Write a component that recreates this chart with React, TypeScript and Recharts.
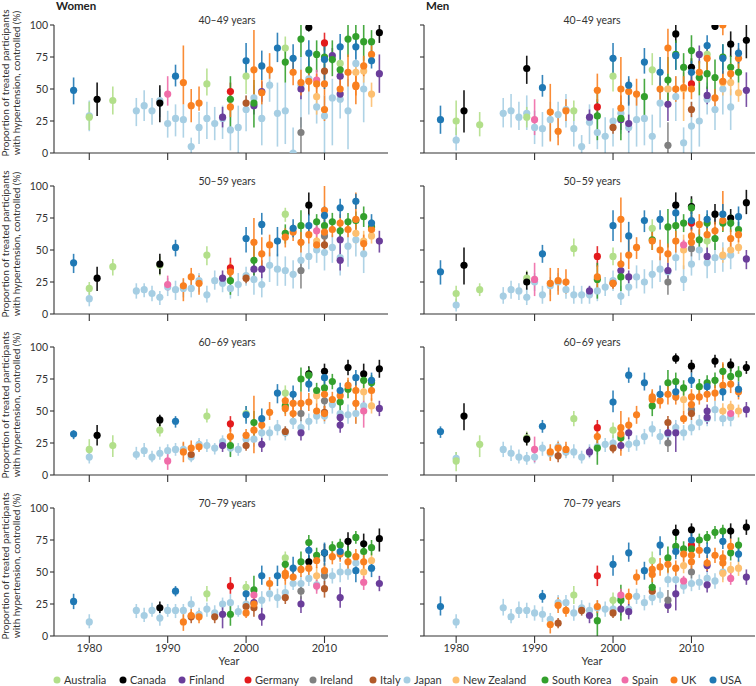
import React from "react";
import { ScatterChart, Scatter, XAxis, YAxis, ErrorBar } from "recharts";

type Row = [string, number, number, number, number];

const countryCodes = ["AU", "CA", "FI", "DE", "IE", "IT", "JP", "NZ", "KR", "ES", "UK", "US"];
const countryNames = ["Australia", "Canada", "Finland", "Germany", "Ireland", "Italy", "Japan", "New Zealand", "South Korea", "Spain", "UK", "USA"];
const countryColors = ["#b2df8a", "#000000", "#6a3d9a", "#e31a1c", "#808080", "#b15928", "#a6cee3", "#fdbf6f", "#33a02c", "#f06ca8", "#f98020", "#1f78b4"];
const drawOrder = ["JP", "AU", "CA", "FI", "DE", "IE", "IT", "NZ", "KR", "ES", "UK", "US"];
const ageGroups = ["40–49 years", "50–59 years", "60–69 years", "70–79 years"];
const sexLabels = ["Women", "Men"];
const yearTicks = [1980, 1990, 2000, 2010];
const pctTicks = [0, 25, 50, 75, 100];

// [country, year, value, lower, upper]
const women40: Row[] = [
  ["US",1978,49,38,59],["AU",1980,28,18,40],["JP",1980,29,17,41],["CA",1981,42,29,55],["AU",1983,41,30,52],
  ["JP",1986,33,21,43],["JP",1987,37,25,49],["JP",1988,33,22,43],["CA",1989,39,24,53],["JP",1989,41,28,50],
  ["ES",1990,46,37,60],["JP",1990,23,12,33],["US",1991,60,52,69],["JP",1991,27,13,38],["UK",1992,55,38,84],
  ["JP",1992,26,12,38],["JP",1993,5,0,12],["UK",1993,37,24,50],["UK",1994,39,33,52],["JP",1994,20,7,32],
  ["AU",1995,54,45,66],["JP",1995,27,11,40],["JP",1996,23,10,36],["FI",1997,28,20,36],["JP",1997,27,11,37],
  ["DE",1998,48,40,55],["KR",1998,42,20,60],["UK",1998,36,28,45],["JP",1998,18,2,35],["JP",1999,20,0,37],
  ["IT",2000,39,33,45],["AU",2000,60,46,72],["US",2000,72,62,86],["JP",2000,34,17,45],["UK",2001,65,40,96],
  ["JP",2001,43,33,53],["FI",2001,37,30,45],["KR",2001,39,20,57],["US",2002,68,57,80],["FI",2002,48,40,56],
  ["UK",2002,47,38,57],["JP",2002,27,6,45],["UK",2003,65,58,78],["JP",2003,53,40,65],["US",2004,82,71,94],
  ["JP",2004,31,5,55],["AU",2005,82,72,91],["KR",2005,71,55,84],["JP",2005,33,7,55],["US",2006,74,64,85],
  ["UK",2006,63,53,73],["JP",2006,0,0,20],["KR",2007,89,75,100],["IE",2007,16,0,28],["UK",2007,55,45,65],
  ["FI",2007,50,42,58],["JP",2007,53,20,75],["CA",2008,98,95,100],["US",2008,78,67,88],["KR",2008,65,55,77],
  ["UK",2008,56,48,64],["JP",2008,58,30,72],["KR",2009,77,63,88],["ES",2009,57,50,65],["UK",2009,54,45,62],
  ["NZ",2009,44,30,55],["JP",2009,36,23,47],["DE",2010,86,80,94],["US",2010,73,50,88],["KR",2010,75,65,85],
  ["IT",2010,64,58,70],["UK",2010,54,45,62],["UK",2010,34,25,45],["JP",2010,29,0,45],["FI",2011,76,70,82],
  ["KR",2011,73,60,88],["JP",2011,43,6,58],["AU",2012,70,60,80],["KR",2012,65,57,73],["FI",2012,60,52,68],
  ["FI",2012,46,40,52],["UK",2012,50,42,58],["JP",2012,42,27,52],["US",2012,83,73,93],["KR",2013,89,75,100],
  ["UK",2013,63,52,77],["JP",2013,33,3,58],["KR",2014,91,80,100],["US",2014,83,73,93],["JP",2014,70,60,80],
  ["NZ",2014,63,55,70],["UK",2014,53,45,60],["UK",2014,52,38,62],["JP",2015,50,24,65],["UK",2015,68,60,76],
  ["NZ",2015,64,55,72],["KR",2015,87,72,100],["UK",2016,77,70,84],["US",2016,72,66,80],["KR",2016,87,78,96],
  ["NZ",2016,46,36,55],["CA",2017,94,86,100],["FI",2017,62,47,77],
];

const men40: Row[] = [
  ["US",1978,26,15,37],["AU",1980,25,14,41],["JP",1980,10,2,20],["CA",1981,33,16,49],["AU",1983,22,13,32],
  ["JP",1986,31,20,43],["JP",1987,33,20,46],["JP",1988,28,18,40],["AU",1989,28,20,36],["JP",1989,31,18,45],
  ["CA",1989,66,54,76],["ES",1990,26,14,42],["JP",1990,20,7,33],["US",1991,51,44,61],["JP",1991,19,5,32],
  ["UK",1992,32,9,54],["JP",1992,26,10,40],["UK",1993,17,6,28],["JP",1993,30,12,40],["UK",1994,33,25,42],
  ["JP",1994,34,20,46],["AU",1995,33,25,41],["JP",1995,19,5,32],["JP",1996,5,0,14],["FI",1997,28,22,34],
  ["JP",1997,24,7,38],["UK",1998,49,40,62],["DE",1998,36,30,42],["KR",1998,29,10,48],["JP",1998,16,3,28],
  ["JP",1999,13,0,28],["US",2000,74,61,86],["AU",2000,60,48,75],["IT",2000,20,15,26],["JP",2000,25,5,35],
  ["UK",2001,50,38,75],["UK",2001,35,25,45],["JP",2001,31,15,45],["KR",2001,27,10,40],["FI",2001,26,18,34],
  ["US",2002,53,37,60],["UK",2002,48,38,58],["FI",2002,23,16,30],["JP",2002,20,0,40],["UK",2003,46,37,58],
  ["JP",2003,26,5,45],["US",2004,71,62,82],["KR",2004,44,27,58],["JP",2004,27,6,45],["AU",2005,65,53,78],
  ["JP",2005,13,0,30],["US",2006,63,47,75],["UK",2006,50,40,60],["JP",2006,39,20,55],["UK",2007,82,62,97],
  ["KR",2007,57,40,75],["NZ",2007,50,38,62],["FI",2007,38,25,50],["IE",2007,6,0,24],["JP",2007,50,35,60],
  ["CA",2008,93,86,100],["US",2008,76,65,86],["KR",2008,77,65,88],["UK",2008,50,40,60],["JP",2008,44,25,60],
  ["KR",2009,67,55,78],["NZ",2009,50,25,63],["UK",2009,51,42,60],["JP",2009,8,0,20],["CA",2010,67,60,74],
  ["US",2010,63,55,72],["KR",2010,80,70,92],["DE",2010,54,48,60],["UK",2010,50,42,58],["IT",2010,34,28,40],
  ["JP",2010,21,0,40],["FI",2011,77,70,84],["KR",2011,59,45,72],["UK",2011,63,55,72],["JP",2011,25,5,45],
  ["US",2012,84,75,92],["AU",2012,77,70,84],["UK",2012,74,62,86],["KR",2012,62,50,74],["FI",2012,45,38,52],
  ["JP",2012,42,30,55],["CA",2013,99,96,100],["KR",2013,59,45,73],["UK",2013,43,35,50],["JP",2013,34,18,50],
  ["UK",2014,100,92,100],["US",2014,74,62,85],["KR",2014,75,65,85],["NZ",2014,55,45,65],["UK",2014,56,48,64],
  ["JP",2014,50,30,65],["CA",2015,85,75,95],["KR",2015,67,58,76],["UK",2015,62,55,70],["NZ",2015,55,45,65],
  ["JP",2015,36,18,50],["US",2016,78,70,86],["UK",2016,74,66,82],["KR",2016,63,55,71],["NZ",2016,47,40,55],
  ["CA",2017,88,74,100],["FI",2017,49,36,63],
];

const women50: Row[] = [
  ["US",1978,40,32,47],["AU",1980,20,15,25],["JP",1980,12,6,18],["CA",1981,28,18,37],["AU",1983,37,30,43],
  ["JP",1986,18,12,24],["JP",1987,19,13,24],["JP",1988,16,10,22],["AU",1989,38,30,45],["CA",1989,39,31,47],
  ["JP",1989,13,7,18],["ES",1990,23,18,30],["JP",1990,21,14,28],["US",1991,52,45,58],["JP",1991,19,11,26],
  ["UK",1992,22,10,28],["JP",1992,20,13,27],["UK",1993,29,22,36],["JP",1993,20,13,27],["UK",1994,24,15,30],
  ["JP",1994,26,17,32],["AU",1995,46,38,53],["JP",1995,15,9,22],["JP",1996,26,19,34],["FI",1997,28,22,34],
  ["JP",1997,24,17,30],["DE",1998,36,28,44],["UK",1998,33,27,40],["KR",1998,26,15,32],["JP",1998,20,12,28],
  ["JP",1999,23,14,32],["IT",2000,28,24,32],["JP",2000,30,22,37],["US",2000,59,48,68],["UK",2001,56,43,75],
  ["KR",2001,42,30,55],["FI",2001,35,30,40],["JP",2001,27,15,36],["US",2002,70,62,79],["UK",2002,47,35,60],
  ["FI",2002,35,28,42],["JP",2002,23,13,31],["UK",2003,54,45,62],["JP",2003,38,25,48],["US",2004,57,45,68],
  ["JP",2004,35,22,47],["AU",2005,78,72,83],["KR",2005,63,55,70],["UK",2005,60,52,67],["JP",2005,34,22,45],
  ["US",2006,67,60,74],["UK",2006,64,57,70],["JP",2006,31,20,42],["KR",2007,69,52,81],["UK",2007,56,48,64],
  ["JP",2007,42,32,52],["IE",2007,34,20,43],["CA",2008,85,77,95],["US",2008,69,60,78],["UK",2008,62,55,70],
  ["JP",2008,45,35,56],["KR",2009,72,65,78],["ES",2009,65,60,70],["NZ",2009,57,50,64],["UK",2009,54,48,60],
  ["JP",2009,50,40,58],["US",2010,77,70,84],["UK",2010,81,65,100],["KR",2010,69,62,76],["UK",2010,64,58,70],
  ["IE",2010,61,55,67],["IT",2010,54,48,60],["JP",2010,48,34,58],["KR",2011,72,65,79],["UK",2011,66,60,72],
  ["JP",2011,52,40,62],["US",2012,83,75,90],["UK",2012,71,64,78],["KR",2012,65,58,72],["FI",2012,58,50,65],
  ["FI",2012,42,34,50],["JP",2012,44,30,55],["KR",2013,72,65,79],["UK",2013,66,60,72],["JP",2013,53,37,65],
  ["US",2014,88,82,94],["UK",2014,74,65,95],["KR",2014,73,66,80],["NZ",2014,63,55,70],["JP",2014,58,45,70],
  ["KR",2015,76,68,84],["NZ",2015,57,50,65],["UK",2015,55,48,62],["JP",2015,47,32,60],["US",2016,71,63,78],
  ["KR",2016,68,62,74],["UK",2016,66,60,72],["NZ",2016,61,55,67],["FI",2017,57,48,65],
];

const men50: Row[] = [
  ["US",1978,33,23,42],["AU",1980,16,9,22],["JP",1980,7,2,12],["CA",1981,38,23,52],["AU",1983,19,14,24],
  ["JP",1986,14,8,21],["JP",1987,19,12,26],["JP",1988,18,11,24],["AU",1989,28,22,34],["CA",1989,25,19,33],
  ["JP",1989,13,7,20],["ES",1990,27,14,40],["JP",1990,25,18,32],["US",1991,47,40,54],["JP",1991,15,8,22],
  ["UK",1992,24,10,36],["JP",1992,22,15,29],["UK",1993,26,15,36],["JP",1993,25,18,32],["UK",1994,25,16,35],
  ["JP",1994,19,12,26],["AU",1995,51,45,59],["JP",1995,15,8,22],["JP",1996,15,8,22],["FI",1997,18,14,22],
  ["JP",1997,15,8,22],["DE",1998,45,37,53],["UK",1998,29,20,38],["KR",1998,27,12,40],["JP",1998,18,10,26],
  ["JP",1999,21,14,29],["US",2000,69,57,81],["AU",2000,45,38,52],["UK",2000,24,20,28],["IT",2000,24,20,28],
  ["JP",2000,26,18,34],["UK",2001,74,56,91],["UK",2001,39,30,48],["FI",2001,34,28,40],["KR",2001,29,18,42],
  ["JP",2001,14,7,22],["US",2002,61,48,72],["UK",2002,46,35,58],["FI",2002,29,24,34],["JP",2002,21,14,29],
  ["UK",2003,52,43,60],["JP",2003,29,20,38],["US",2004,73,64,81],["JP",2004,25,16,35],["AU",2005,67,60,74],
  ["KR",2005,58,50,66],["UK",2005,57,50,64],["JP",2005,31,20,42],["US",2006,74,66,81],["UK",2006,50,42,58],
  ["JP",2006,35,25,45],["KR",2007,68,52,82],["UK",2007,47,40,55],["FI",2007,34,28,40],["JP",2007,33,22,44],
  ["IE",2007,25,15,35],["CA",2008,85,77,95],["US",2008,79,72,86],["KR",2008,69,60,78],["UK",2008,57,48,65],
  ["JP",2008,44,34,55],["KR",2009,71,64,78],["ES",2009,54,50,58],["NZ",2009,50,35,62],["JP",2009,27,18,38],
  ["CA",2010,84,78,92],["KR",2010,83,75,90],["DE",2010,71,65,77],["US",2010,73,66,80],["UK",2010,61,55,67],
  ["UK",2010,56,50,62],["IE",2010,51,45,57],["JP",2010,39,30,48],["UK",2011,70,62,78],["KR",2011,58,50,66],
  ["JP",2011,50,42,58],["US",2012,74,67,81],["KR",2012,71,64,78],["UK",2012,62,55,69],["AU",2012,57,50,64],
  ["FI",2012,45,38,52],["JP",2012,40,28,50],["CA",2013,78,70,86],["UK",2013,65,58,72],["KR",2013,59,50,68],
  ["JP",2013,44,32,55],["US",2014,78,70,86],["UK",2014,73,65,96],["KR",2014,71,64,78],["NZ",2014,46,40,52],
  ["JP",2014,45,33,56],["CA",2015,75,68,82],["KR",2015,71,64,78],["UK",2015,59,52,66],["NZ",2015,50,44,56],
  ["JP",2015,46,35,56],["US",2016,76,68,84],["KR",2016,66,60,72],["UK",2016,62,56,68],["NZ",2016,52,47,58],
  ["CA",2017,87,78,97],["FI",2017,43,35,50],
];

const women60: Row[] = [
  ["US",1978,32,28,35],["AU",1980,20,13,28],["JP",1980,14,9,19],["CA",1981,31,23,39],["AU",1983,23,14,31],
  ["JP",1986,16,12,22],["JP",1987,19,14,25],["JP",1988,14,10,19],["AU",1989,35,30,40],["CA",1989,43,38,47],
  ["JP",1989,17,12,22],["ES",1990,11,4,18],["JP",1990,19,14,24],["US",1991,42,37,46],["JP",1991,20,15,25],
  ["UK",1992,18,10,26],["JP",1992,20,16,25],["UK",1993,21,16,27],["IT",1993,16,12,21],["JP",1993,14,10,19],
  ["UK",1994,22,18,27],["JP",1994,24,19,29],["AU",1995,46,41,52],["JP",1995,23,18,28],["JP",1996,21,16,25],
  ["FI",1997,23,18,28],["JP",1997,26,21,31],["DE",1998,40,34,46],["UK",1998,30,24,36],["KR",1998,23,14,32],
  ["JP",1998,21,15,26],["JP",1999,20,15,25],["AU",2000,48,42,54],["US",2000,47,40,54],["UK",2000,31,26,36],
  ["JP",2000,28,23,34],["IT",2000,23,19,27],["KR",2001,41,30,50],["UK",2001,35,17,62],["JP",2001,28,22,34],
  ["US",2002,44,39,52],["UK",2002,39,33,45],["JP",2002,33,27,38],["FI",2002,24,18,29],["UK",2003,49,43,57],
  ["JP",2003,33,27,38],["US",2004,64,56,71],["JP",2004,37,31,43],["AU",2005,64,58,70],["UK",2005,58,52,64],
  ["KR",2005,54,48,60],["UK",2005,52,46,58],["IT",2005,34,30,38],["JP",2005,33,27,38],["US",2006,63,57,70],
  ["UK",2006,56,50,62],["UK",2006,48,42,54],["JP",2006,42,36,48],["KR",2007,75,65,84],["UK",2007,56,50,65],
  ["IE",2007,48,42,54],["JP",2007,37,31,43],["FI",2007,33,27,38],["CA",2008,79,74,85],["KR",2008,78,72,84],
  ["US",2008,71,65,77],["UK",2008,57,50,64],["JP",2008,42,35,48],["KR",2009,66,60,72],["NZ",2009,62,56,68],
  ["UK",2009,50,45,56],["JP",2009,46,40,52],["CA",2010,81,75,87],["US",2010,76,70,82],["KR",2010,68,62,74],
  ["UK",2010,63,56,70],["IE",2010,58,52,64],["IT",2010,49,44,54],["UK",2010,48,42,54],["JP",2010,46,40,52],
  ["KR",2011,73,67,79],["UK",2011,59,53,65],["JP",2011,55,48,62],["US",2012,66,60,72],["UK",2012,62,56,68],
  ["KR",2012,57,50,64],["JP",2012,48,40,55],["FI",2012,45,40,50],["FI",2012,39,33,45],["CA",2013,84,78,90],
  ["UK",2013,70,64,76],["KR",2013,67,60,74],["JP",2013,47,40,55],["US",2014,76,70,82],["UK",2014,66,58,74],
  ["UK",2014,56,40,70],["JP",2014,48,40,56],["CA",2015,79,72,87],["KR",2015,74,68,80],["NZ",2015,65,58,72],
  ["JP",2015,54,46,62],["ES",2015,50,37,58],["US",2016,74,68,80],["KR",2016,72,66,78],["UK",2016,66,58,74],
  ["NZ",2016,54,48,60],["CA",2017,83,76,90],["FI",2017,52,46,58],
];

const men60: Row[] = [
  ["US",1978,34,29,38],["AU",1980,11,3,18],["JP",1980,13,8,18],["CA",1981,46,35,56],["AU",1983,24,14,31],
  ["JP",1986,20,14,26],["JP",1987,17,11,23],["JP",1988,14,9,20],["AU",1989,29,24,34],["CA",1989,28,23,33],
  ["JP",1989,13,8,18],["ES",1990,20,10,30],["JP",1990,14,9,20],["US",1991,38,33,43],["JP",1991,21,15,26],
  ["UK",1992,18,11,24],["JP",1992,17,12,22],["UK",1993,21,16,26],["IT",1993,15,10,20],["JP",1993,22,17,27],
  ["UK",1994,20,15,26],["JP",1994,18,13,24],["AU",1995,44,38,50],["JP",1995,18,13,24],["JP",1996,14,9,19],
  ["FI",1997,18,14,22],["JP",1997,18,13,24],["DE",1998,37,31,43],["UK",1998,30,24,36],["KR",1998,21,8,30],
  ["JP",1998,22,16,27],["JP",1999,24,18,29],["US",2000,57,49,66],["AU",2000,35,29,41],["JP",2000,25,19,31],
  ["IT",2000,21,17,26],["UK",2001,37,15,50],["UK",2001,32,26,38],["JP",2001,31,25,37],["KR",2001,29,22,36],
  ["FI",2001,23,19,27],["US",2002,78,72,84],["UK",2002,39,33,45],["FI",2002,33,28,38],["JP",2002,24,18,30],
  ["UK",2003,47,40,54],["JP",2003,25,19,31],["US",2004,72,66,80],["JP",2004,30,24,36],["UK",2005,61,55,67],
  ["AU",2005,60,54,66],["UK",2005,59,53,65],["KR",2005,54,46,62],["JP",2005,36,30,42],["US",2006,63,57,70],
  ["UK",2006,58,52,64],["JP",2006,30,24,36],["KR",2007,72,62,82],["UK",2007,63,55,70],["IT",2007,41,36,46],
  ["FI",2007,33,27,38],["JP",2007,32,26,38],["IE",2007,25,18,32],["CA",2008,91,87,95],["KR",2008,73,66,80],
  ["US",2008,65,58,72],["UK",2008,61,55,68],["JP",2008,37,31,43],["FI",2008,33,18,40],["KR",2009,68,62,74],
  ["NZ",2009,59,50,66],["UK",2009,44,40,50],["JP",2009,33,27,39],["CA",2010,85,80,90],["US",2010,74,68,80],
  ["UK",2010,61,55,67],["UK",2010,55,49,61],["IE",2010,51,46,56],["IT",2010,48,43,53],["JP",2010,37,31,43],
  ["KR",2011,69,63,75],["UK",2011,61,55,67],["JP",2011,41,35,47],["KR",2012,72,66,78],["US",2012,69,63,75],
  ["UK",2012,63,57,69],["FI",2012,50,45,55],["FI",2012,45,40,50],["JP",2012,44,38,50],["CA",2013,89,84,94],
  ["KR",2013,74,68,80],["UK",2013,64,58,70],["JP",2013,51,42,58],["KR",2014,81,75,87],["UK",2014,70,64,88],
  ["US",2014,65,58,72],["NZ",2014,50,44,56],["JP",2014,44,38,50],["CA",2015,86,81,91],["KR",2015,77,70,84],
  ["UK",2015,71,64,78],["NZ",2015,53,47,58],["ES",2015,48,44,52],["JP",2015,45,38,52],["KR",2016,79,73,85],
  ["US",2016,67,61,73],["UK",2016,65,59,71],["NZ",2016,50,45,55],["CA",2017,84,79,89],["FI",2017,51,45,57],
];

const women70: Row[] = [
  ["US",1978,27,21,33],["JP",1980,11,6,17],["JP",1986,20,14,25],["JP",1987,16,11,22],["JP",1988,20,15,26],
  ["CA",1989,22,18,27],["JP",1989,14,8,19],["JP",1990,20,15,25],["US",1991,35,31,39],["JP",1991,20,14,25],
  ["UK",1992,11,4,17],["JP",1992,20,14,25],["JP",1993,25,19,31],["UK",1993,16,12,21],["IT",1993,15,10,19],
  ["JP",1994,17,12,22],["UK",1994,15,10,20],["AU",1995,33,27,39],["JP",1995,21,15,26],["JP",1996,18,13,24],
  ["IT",1996,15,10,19],["FI",1997,17,6,24],["JP",1997,25,20,30],["DE",1998,39,33,46],["JP",1998,26,18,33],
  ["KR",1998,17,8,24],["JP",1999,19,15,24],["AU",2000,38,33,43],["US",2000,33,28,38],["JP",2000,25,20,30],
  ["IT",2000,23,19,28],["UK",2000,18,14,22],["KR",2001,36,25,47],["ES",2001,32,27,37],["FI",2001,26,20,32],
  ["UK",2001,25,20,30],["IT",2001,22,15,28],["US",2002,47,40,55],["JP",2002,28,20,35],["FI",2002,15,8,22],
  ["UK",2003,41,36,46],["JP",2003,33,27,40],["US",2004,47,39,55],["JP",2004,30,22,37],["AU",2005,61,55,66],
  ["KR",2005,56,50,62],["UK",2005,49,43,55],["UK",2005,47,40,53],["JP",2005,34,28,40],["IT",2005,30,25,35],
  ["US",2006,53,45,62],["UK",2006,46,40,51],["JP",2006,41,36,47],["KR",2007,58,49,66],["UK",2007,52,46,58],
  ["JP",2007,41,35,47],["IE",2007,35,29,41],["FI",2007,25,18,31],["KR",2008,73,67,79],["US",2008,67,60,73],
  ["CA",2008,58,53,63],["UK",2008,53,47,59],["JP",2008,45,39,51],["KR",2009,63,57,69],["UK",2009,59,53,65],
  ["NZ",2009,47,40,54],["JP",2009,40,35,46],["ES",2009,39,33,44],["US",2010,65,55,73],["CA",2010,65,58,72],
  ["UK",2010,51,45,57],["JP",2010,50,44,56],["IE",2010,47,40,53],["IT",2010,37,30,43],["KR",2011,69,64,74],
  ["UK",2011,62,56,68],["JP",2011,47,41,53],["KR",2012,71,65,76],["US",2012,66,60,72],["UK",2012,64,58,70],
  ["JP",2012,50,42,57],["FI",2012,30,22,38],["CA",2013,74,65,81],["KR",2013,64,58,70],["UK",2013,58,52,64],
  ["JP",2013,50,44,56],["KR",2014,77,72,82],["UK",2014,62,55,68],["JP",2014,57,50,63],["US",2014,51,42,58],
  ["CA",2015,72,64,80],["KR",2015,66,60,72],["UK",2015,58,52,64],["NZ",2015,50,44,56],["ES",2015,42,36,47],
  ["KR",2016,69,63,75],["NZ",2016,59,53,65],["US",2016,53,46,60],["CA",2017,76,66,84],["FI",2017,41,35,47],
];

const men70: Row[] = [
  ["US",1978,23,16,31],["JP",1980,11,6,17],["JP",1986,22,16,29],["JP",1987,15,10,21],["JP",1988,20,14,27],
  ["JP",1989,20,14,26],["JP",1990,18,12,24],["US",1991,31,26,36],["JP",1991,17,11,23],["UK",1992,9,2,14],
  ["JP",1992,13,8,18],["UK",1993,24,18,30],["JP",1993,26,20,32],["IT",1993,10,6,14],["JP",1994,26,20,32],
  ["UK",1994,20,15,25],["AU",1995,32,25,39],["JP",1995,18,12,24],["JP",1996,22,16,28],["IT",1996,20,16,24],
  ["JP",1997,20,14,26],["FI",1997,16,10,22],["DE",1998,47,39,55],["UK",1998,23,18,28],["JP",1998,22,16,28],
  ["KR",1998,12,0,20],["JP",1999,21,15,27],["US",2000,56,47,63],["AU",2000,28,22,34],["JP",2000,21,15,27],
  ["IT",2000,18,14,22],["ES",2001,32,27,37],["JP",2001,30,24,36],["KR",2001,28,12,40],["FI",2001,21,16,26],
  ["US",2002,65,58,73],["UK",2002,31,25,37],["JP",2002,21,15,27],["FI",2002,19,13,25],["UK",2003,46,40,52],
  ["JP",2003,31,25,37],["US",2004,51,44,58],["JP",2004,26,20,32],["AU",2005,59,53,66],["UK",2005,52,46,58],
  ["UK",2005,48,42,54],["KR",2005,38,30,46],["IT",2005,35,31,39],["JP",2005,30,24,36],["US",2006,71,63,78],
  ["UK",2006,54,47,61],["JP",2006,32,26,38],["KR",2007,61,50,70],["UK",2007,56,49,63],["JP",2007,44,38,50],
  ["IE",2007,28,20,36],["FI",2007,24,18,30],["CA",2008,81,75,87],["KR",2008,70,62,78],["US",2008,66,60,72],
  ["UK",2008,53,47,59],["JP",2008,44,38,50],["FI",2008,33,20,40],["KR",2009,68,62,74],["UK",2009,64,58,70],
  ["NZ",2009,55,49,61],["ES",2009,43,39,47],["JP",2009,39,33,45],["CA",2010,83,78,88],["US",2010,75,69,81],
  ["DE",2010,71,66,76],["KR",2010,68,62,74],["UK",2010,63,57,69],["UK",2010,58,52,64],["IE",2010,50,45,55],
  ["JP",2010,41,35,47],["KR",2011,75,70,80],["UK",2011,67,61,73],["JP",2011,42,36,48],["KR",2012,77,72,82],
  ["US",2012,67,61,73],["UK",2012,57,51,63],["FI",2012,55,50,60],["FI",2012,40,34,46],["JP",2012,45,39,51],
  ["KR",2013,81,76,86],["UK",2013,63,57,69],["JP",2013,43,37,49],["KR",2014,82,77,87],["US",2014,74,68,80],
  ["UK",2014,61,55,67],["UK",2014,57,51,63],["NZ",2014,49,42,56],["JP",2014,50,44,56],["CA",2015,82,76,88],
  ["UK",2015,70,64,76],["KR",2015,65,59,71],["NZ",2015,52,46,58],["ES",2015,45,40,50],["KR",2016,71,65,77],
  ["US",2016,64,58,70],["NZ",2016,53,47,59],["CA",2017,85,79,91],["FI",2017,46,40,52],
];

const womenPanels = [women40, women50, women60, women70];
const menPanels = [men40, men50, men60, men70];

// layout (style only)
const FONT = "Lato, 'Noto Sans', sans-serif";
const AXIS = "#333";
const TEXT = "#333";
const rowTop = [25, 186, 347, 508];
const plotH = 128;
const legendX = [57, 123, 182, 248, 313, 373, 407, 456, 545, 625, 674, 713];

const emptyTick = () => <g />;

function colorOf(code: string) {
  return countryColors[countryCodes.indexOf(code)];
}

function Panel({ rows, col, row }: { rows: Row[]; col: number; row: number }) {
  const isWomen = col === 0;
  const isBottom = row === 3;
  const yW = isWomen ? 54 : 44;
  const width = isWomen ? 390 : 376;
  return (
    <div style={{ position: "absolute", left: isWomen ? 0 : 380, top: rowTop[row] - 10 }}>
      <ScatterChart width={width} height={10 + plotH + 30} margin={{ top: 10, right: isWomen ? 2 : 1, bottom: 0, left: 0 }}>
        <XAxis
          type="number"
          dataKey="x"
          domain={isWomen ? [1975.5, 2018.1] : [1975.9, 2018.1]}
          ticks={yearTicks}
          interval={0}
          allowDataOverflow
          height={30}
          tickSize={7}
          tickMargin={1}
          axisLine={{ stroke: AXIS, strokeWidth: 1.1 }}
          tickLine={{ stroke: AXIS, strokeWidth: 1.1 }}
          tick={isBottom ? { fontSize: 11, fill: TEXT, fontFamily: FONT } : emptyTick}
        />
        <YAxis
          type="number"
          dataKey="y"
          domain={[0, 100]}
          ticks={pctTicks}
          interval={0}
          allowDataOverflow
          width={yW}
          tickSize={4}
          tickMargin={2}
          axisLine={{ stroke: AXIS, strokeWidth: 1.1 }}
          tickLine={{ stroke: AXIS, strokeWidth: 1.1 }}
          tick={isWomen ? { fontSize: 10.5, fill: TEXT, fontFamily: FONT } : emptyTick}
        />
        {drawOrder.map((code) => {
          const data = rows
            .filter((r) => r[0] === code)
            .map((r) => ({ x: r[1], y: r[2], err: [r[2] - r[3], r[4] - r[2]] }));
          if (!data.length) return null;
          const c = colorOf(code);
          return (
            <Scatter
              key={code}
              data={data}
              isAnimationActive={false}
              shape={(p: any) => <circle cx={p.cx} cy={p.cy} r={3.6} fill={c} />}
            >
              <ErrorBar dataKey="err" direction="y" width={0} stroke={c} strokeWidth={1.6} strokeOpacity={0.9} />
            </Scatter>
          );
        })}
      </ScatterChart>
    </div>
  );
}

export default function App() {
  return (
    <div style={{ position: "absolute", left: 0, top: 0, width: 756, height: 686, background: "#fff", fontFamily: FONT }}>
      {womenPanels.map((rows, i) => (
        <Panel key={"w" + i} rows={rows} col={0} row={i} />
      ))}
      {menPanels.map((rows, i) => (
        <Panel key={"m" + i} rows={rows} col={1} row={i} />
      ))}
      <svg width={756} height={686} style={{ position: "absolute", left: 0, top: 0, pointerEvents: "none" }} fontFamily={FONT}>
        <text x={56} y={10} fontSize={11.5} fontWeight={700} fill="#222">{sexLabels[0]}</text>
        <text x={426} y={10} fontSize={11.5} fontWeight={700} fill="#222">{sexLabels[1]}</text>
        {ageGroups.map((g, i) => (
          <g key={g}>
            <text x={227} y={rowTop[i] - 1} fontSize={10.5} fill={TEXT} textAnchor="middle">{g}</text>
            <text x={592} y={rowTop[i] - 1} fontSize={10.5} fill={TEXT} textAnchor="middle">{g}</text>
            <text transform={`translate(9, ${rowTop[i] + 58}) rotate(-90)`} fontSize={10} fill={TEXT} textAnchor="middle">
              Proportion of treated participants
            </text>
            <text transform={`translate(19.5, ${rowTop[i] + 58}) rotate(-90)`} fontSize={10} fill={TEXT} textAnchor="middle">
              with hypertension, controlled (%)
            </text>
          </g>
        ))}
        <text x={229} y={665} fontSize={11} fill={TEXT} textAnchor="middle">Year</text>
        <text x={592} y={665} fontSize={11} fill={TEXT} textAnchor="middle">Year</text>
        {countryNames.map((n, i) => (
          <g key={n}>
            <circle cx={legendX[i]} cy={680} r={3.5} fill={countryColors[i]} />
            <text x={legendX[i] + 7} y={684} fontSize={11} fill={TEXT}>{n}</text>
          </g>
        ))}
      </svg>
    </div>
  );
}
